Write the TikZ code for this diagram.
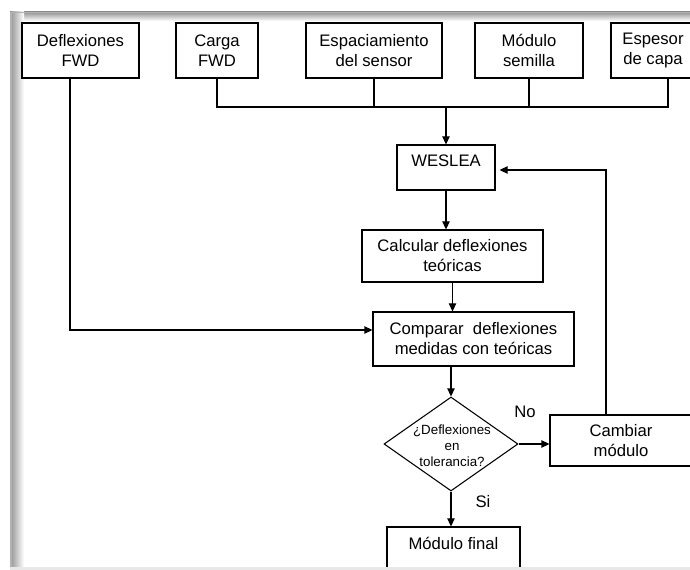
\documentclass[tikz,border=0pt]{standalone}
\usepackage{fontspec}
\setmainfont{Liberation Sans}
\usetikzlibrary{arrows.meta,shapes.geometric}
\tikzset{
  box/.style={draw=black, line width=0.8pt, fill=white, inner sep=0pt, align=center,
    font=\fontsize{12.5}{15}\selectfont},
  dia/.style={draw=black, line width=0.8pt, diamond, inner sep=0pt,
    minimum width=134*0.75pt, minimum height=94*0.75pt},
  line/.style={draw=black, line width=0.8pt},
  arr/.style={line, -{Triangle[length=6pt,width=5.5pt]}},
  lbl/.style={font=\fontsize{12.5}{15}\selectfont, inner sep=0pt}
}
\begin{document}
\begin{tikzpicture}[x=0.75pt,y=-0.75pt]
\useasboundingbox (0,0) rectangle (690,570);
\clip (0,0) rectangle (690,570);
% frame shadow
\shade[left color=gray!85, right color=white] (10,12) rectangle (24,570);
\shade[top color=gray!85, bottom color=white] (10,12) rectangle (690,21);
\shade[left color=gray!85, right color=white] (10,12) rectangle (24,21);
\fill[gray!60] (10,12) rectangle (11.5,570);
\fill[gray!60] (10,12) rectangle (690,13.2);

% top boxes
\node[box, minimum width=117*0.75pt, minimum height=55*0.75pt] (defl) at (80.5,50.5) {Deflexiones\\FWD};
\node[box, minimum width=82*0.75pt, minimum height=55*0.75pt] (carga) at (217,50.5) {Carga\\FWD};
\node[box, minimum width=136*0.75pt, minimum height=55*0.75pt] (esp) at (374,50.5) {Espaciamiento\\del sensor};
\node[box, minimum width=108*0.75pt, minimum height=55*0.75pt] (mod) at (529,50.5) {Módulo\\semilla};
\node[box, minimum width=84*0.75pt, minimum height=55*0.75pt] (espesor) at (653,50.5) {Espesor\\de capa};

% main column
\node[box, minimum width=98*0.75pt, minimum height=45*0.75pt,
  label={[lbl, yshift=5pt]center:WESLEA}] (weslea) at (446,167.5) {};
\node[box, minimum width=181*0.75pt, minimum height=52*0.75pt] (calc) at (452.5,256) {Calcular deflexiones\\teóricas};
\node[box, minimum width=201*0.75pt, minimum height=54*0.75pt] (comp) at (473.5,339) {Comparar\ \ deflexiones\\medidas con teóricas};
\node[dia] (dec) at (451,444) {};
\node[font=\fontsize{10}{12}\selectfont, align=center, inner sep=0pt] (dectext) at (452,446) {¿Deflexiones\\en\\tolerancia?};
\node[box, minimum width=142*0.75pt, minimum height=51*0.75pt] (camb) at (621,440.5) {Cambiar\\módulo};
\node[box, minimum width=133*0.75pt, minimum height=73*0.75pt,
  label={[lbl, yshift=15pt]center:Módulo final}] (final) at (453.5,563.5) {};

% labels
\node[lbl] (no) at (525,412) {No};
\node[lbl] (si) at (483,502) {Si};

% coordinates
\coordinate (bus) at (446,107);
\coordinate (busR) at (668,107);
\coordinate (d1) at (70,330);
\coordinate (fb) at (606,170);

% connectors
\draw[line] (carga.south) |- (busR) -- (busR |- espesor.south);
\draw[line] (esp.south) -- (esp.south |- bus);
\draw[line] (mod.south) -- (mod.south |- bus);
\draw[arr] (bus) -- (weslea.north);
\draw[arr] (weslea.south) -- (weslea.south |- calc.north);
\draw[arr] (calc.south) -- (calc.south |- comp.north);
\draw[arr] (defl.south -| d1) -- (d1) -- (d1 -| comp.west);
\draw[arr] (dec.north |- comp.south) -- (dec.north);
\draw[arr] (dec.east) -- (dec.east -| camb.west);
\draw[arr, shorten >=3pt] (camb.north -| fb) -- (fb) -- (fb -| weslea.east);
\draw[arr] (dec.south) -- (dec.south |- final.north);

% bottom edge
\fill[gray!18] (10,567.5) rectangle (690,570);
\end{tikzpicture}
\end{document}
